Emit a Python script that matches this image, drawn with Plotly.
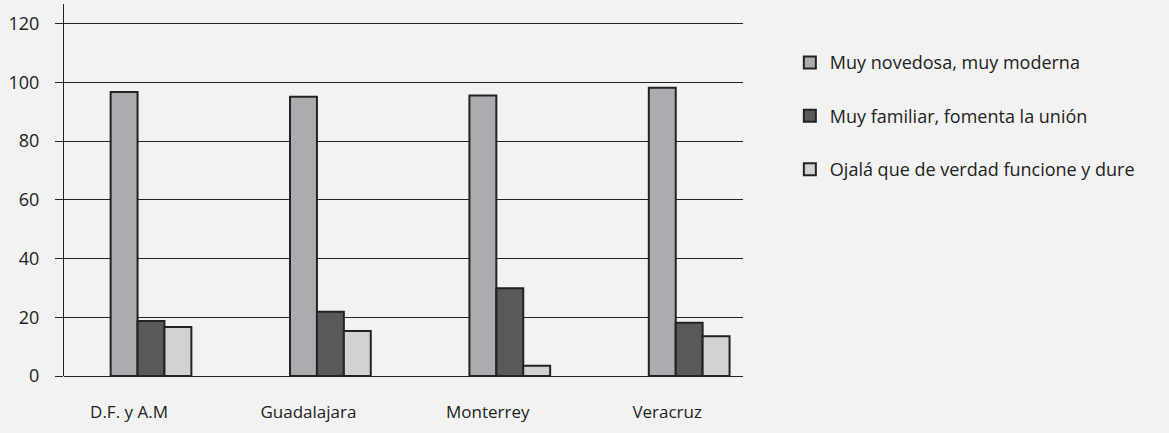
import plotly.graph_objects as go

categories = ["D.F. y A.M", "Guadalajara", "Monterrey", "Veracruz"]
series_names = ["Muy novedosa, muy moderna", "Muy familiar, fomenta la unión", "Ojalá que de verdad funcione y dure"]
novedosa = [96.7, 95.1, 95.5, 98.2]
familiar = [18.7, 21.9, 29.9, 18.1]
ojala = [16.7, 15.3, 3.5, 13.5]
colors = ["#abacb0", "#58595b", "#d1d2d4"]
y_ticks = [0, 20, 40, 60, 80, 100, 120]

fig = go.Figure()
for i, (name, vals) in enumerate(zip(series_names, [novedosa, familiar, ojala])):
    fig.add_trace(go.Bar(
        x=categories, y=vals, name=name, legendgroup=f"g{i}",
        marker=dict(color=colors[i], line=dict(color="#222222", width=2)),
    ))

font = dict(family="Open Sans, Noto Sans, sans-serif", size=17, color="#222222")
fig.update_layout(
    width=1169, height=433,
    paper_bgcolor="#f2f2f2", plot_bgcolor="#f2f2f2",
    margin=dict(l=64, r=426, t=4, b=57),
    barmode="group", bargap=0.55, bargroupgap=0,
    font=font,
    showlegend=True,
    legend=dict(x=1.069, y=0.892, xanchor="left", yanchor="top",
                font=dict(size=18, color="#222222"),
                traceorder="grouped", tracegroupgap=27,
                bgcolor="rgba(0,0,0,0)"),
)
fig.update_xaxes(
    type="category", range=[-0.485, 3.30],
    showline=False, showgrid=False, zeroline=False,
    ticks="", ticklabelstandoff=24, ticklabelshift=-22,
    tickfont=dict(size=17),
)
fig.update_yaxes(
    range=[0, 126.7], tickvals=y_ticks,
    showgrid=True, gridcolor="#222222", gridwidth=1,
    zeroline=True, zerolinecolor="#222222", zerolinewidth=1,
    showline=True, linecolor="#222222", linewidth=1,
    ticks="outside", ticklen=8, tickcolor="#222222",
    ticklabelstandoff=12, tickfont=dict(size=18),
)
fig.write_html("out.html", config={"displayModeBar": False},
               post_script="document.body.style.margin='0';")
